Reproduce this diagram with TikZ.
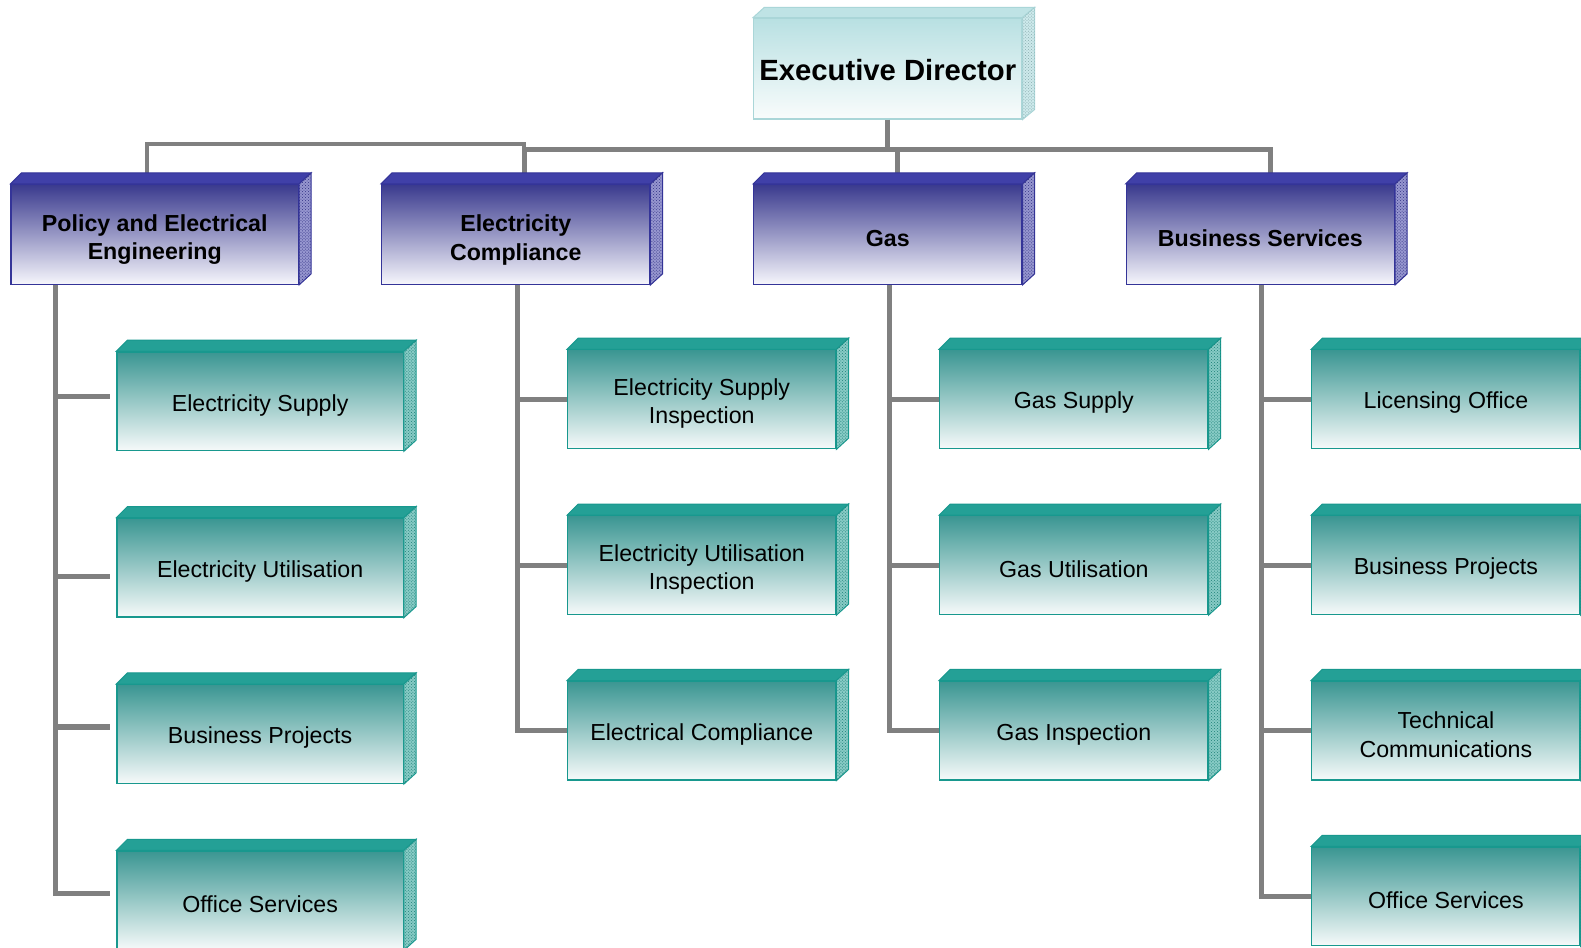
\documentclass[tikz,border=0pt]{standalone}
\usepackage{fontspec}
\setmainfont{Liberation Sans}
\usetikzlibrary{calc,patterns}
\definecolor{leafdark}{RGB}{58,150,146}
\definecolor{leaflight}{RGB}{246,250,250}
\definecolor{leafline}{RGB}{24,152,142}
\definecolor{leafface}{RGB}{36,160,150}
\definecolor{deptdark}{RGB}{58,58,142}
\definecolor{deptlight}{RGB}{246,246,252}
\definecolor{deptline}{RGB}{52,52,152}
\definecolor{deptface}{RGB}{64,64,168}
\definecolor{headdark}{RGB}{184,224,226}
\definecolor{headlight}{RGB}{249,252,252}
\definecolor{headline}{RGB}{170,214,216}
\definecolor{connline}{RGB}{128,128,128}

\begin{document}
\begin{tikzpicture}[x=1pt,y=-1pt,
box/.style={minimum width=266pt,minimum height=98pt,inner sep=0pt,align=center,line width=1.2pt,text height=24pt},
twolines/.style={text height=#1},
leaf/.style={box,draw=leafline,top color=leafdark,bottom color=leaflight,font=\fontsize{23}{28}\selectfont},
dept/.style={box,minimum height=99pt,draw=deptline,top color=deptdark,bottom color=deptlight,font=\bfseries\fontsize{23}{28}\selectfont},
head/.style={box,minimum height=100pt,draw=headline,top color=headdark,bottom color=headlight,font=\bfseries\fontsize{29}{34}\selectfont},
conn/.style={draw=connline,line width=5pt}]
\useasboundingbox[fill=white] (0,0) rectangle (1568,940);
% boxes
\node[head] (ed) at (880.5,68) {Executive Director};
\node[dept,minimum width=285pt,twolines=55.5pt] (pol) at (153.5,232.5) {Policy and Electrical\\Engineering};
\node[dept,twolines=55.5pt] (ec) at (511.5,232.5) {Electricity\\Compliance};
\node[dept] (gas) at (880.5,232.5) {Gas};
\node[dept] (bs) at (1250,232.5) {Business Services};
\foreach \n/\y/\t in {p1/398/Electricity Supply,p2/563/Electricity Utilisation,p3/728/Business Projects,p4/893/Office Services}
  {\node[leaf,minimum width=284pt] (\n) at (258,\y) {\t};}
\foreach \n/\y/\t/\h in {c1/396/{Electricity Supply\\Inspection}/53pt,c2/560.5/{Electricity Utilisation\\Inspection}/53pt,c3/724.5/Electrical Compliance/24pt}
  {\node[leaf,twolines=\h] (\n) at (696,\y) {\t};}
\foreach \n/\y/\t in {g1/396/Gas Supply,g2/560.5/Gas Utilisation,g3/724.5/Gas Inspection}
  {\node[leaf] (\n) at (1065,\y) {\t};}
\foreach \n/\y/\t/\h in {b1/396/Licensing Office/24pt,b2/560.5/Business Projects/24pt,b3/724.5/{Technical\\Communications}/53pt,b4/889/Office Services/24pt}
  {\node[leaf,twolines=\h] (\n) at (1434,\y) {\t};}
% connectors
\coordinate (bus) at ($(ed.south)+(0,30)$);
\draw[conn] (ed.south) -- (bus);
\draw[conn] ($(ec.north)+(8.5,0)$) |- (bus) -| ($(bs.north)+(10,0)$);
\draw[conn] (bus) -| ($(gas.north)+(9.5,0)$);
\draw[conn,line width=4pt] ($(pol.north)+(-7.5,0)$) |- ($(bus -| ec.north)+(8.5,-6)$) -- ++(0,6);
\coordinate (pstem) at ($(pol.south west)+(45,0)$);
\draw[conn] (pstem) |- ($(p4.west)+(-6,-7)$);
\foreach \n/\dy in {p1/-5,p2/9,p3/-7}{\draw[conn] (pstem |- {$(\n.west)+(0,\dy)$}) -- ($(\n.west)+(-6,\dy)$);}
\foreach \d/\a/\b/\c/\l in {ec/c1/c2/c3/c3,gas/g1/g2/g3/g3,bs/b1/b2/b3/b4}{
  \draw[conn] ($(\d.south)+(1.5,0)$) coordinate (s) |- (\l.west);
  \foreach \n in {\a,\b,\c}{\draw[conn] (s |- \n.west) -- (\n.west);}
}
% 3d faces
\foreach \n in {p1,p2,p3,p4,c1,c2,c3,g1,g2,g3,b1,b2,b3,b4}{
  \filldraw[fill=leafface,draw=leafline,line width=1pt] (\n.north west) -- ++(11,-11) -- ($(\n.north east)+(12,-11)$) -- (\n.north east) -- cycle;
  \filldraw[fill=leafface!55!white,draw=leafline,line width=1pt] (\n.north east) -- ++(12,-11) -- ($(\n.south east)+(12,-11)$) -- (\n.south east) -- cycle;
  \fill[pattern=crosshatch dots,pattern color=leafface!80!black] (\n.north east) -- ++(12,-11) -- ($(\n.south east)+(12,-11)$) -- (\n.south east) -- cycle;
}
\foreach \n in {pol,ec,gas,bs}{
  \filldraw[fill=deptface,draw=deptline,line width=1pt] (\n.north west) -- ++(11,-11) -- ($(\n.north east)+(12,-11)$) -- (\n.north east) -- cycle;
  \filldraw[fill=deptface!55!white,draw=deptline,line width=1pt] (\n.north east) -- ++(12,-11) -- ($(\n.south east)+(12,-11)$) -- (\n.south east) -- cycle;
  \fill[pattern=crosshatch dots,pattern color=deptface!80!black] (\n.north east) -- ++(12,-11) -- ($(\n.south east)+(12,-11)$) -- (\n.south east) -- cycle;
}
\filldraw[fill=headdark!90!white,draw=headline,line width=1pt] (ed.north west) -- ++(11,-10) -- ($(ed.north east)+(12,-10)$) -- (ed.north east) -- cycle;
\filldraw[fill=headdark!70!white,draw=headline,line width=1pt] (ed.north east) -- ++(12,-10) -- ($(ed.south east)+(12,-10)$) -- (ed.south east) -- cycle;
\fill[pattern=crosshatch dots,pattern color=headline!80!black] (ed.north east) -- ++(12,-10) -- ($(ed.south east)+(12,-10)$) -- (ed.south east) -- cycle;
\end{tikzpicture}
\end{document}
